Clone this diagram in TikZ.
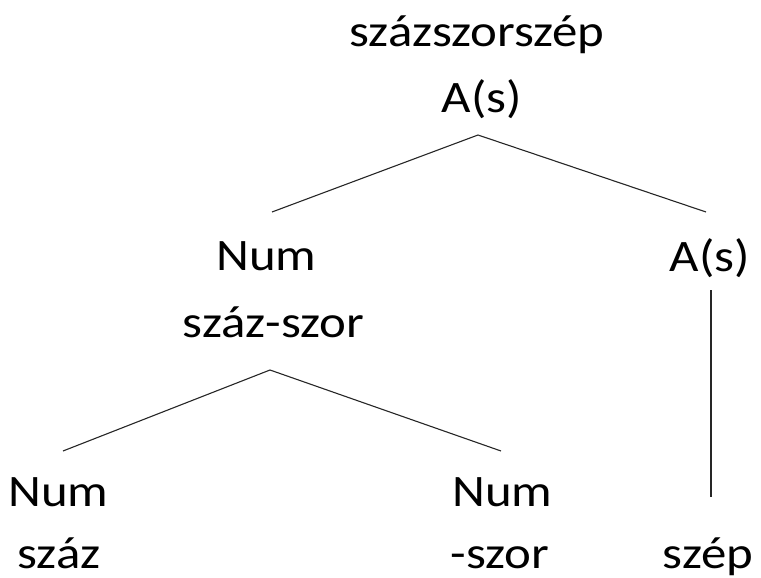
\documentclass[tikz,border=0pt]{standalone}
\usepackage{fontspec}
\setmainfont[FakeStretch=1.13]{Carlito}
\begin{document}
\begin{tikzpicture}[x=1pt,y=-1pt,
  lbl/.style={anchor=base,inner sep=0pt,font=\fontsize{45}{54}\selectfont},
  branch/.style={draw=black!85,line width=1.1pt}]
\useasboundingbox (0,0) rectangle (761,578);

% labels
\node[lbl] (root)    at (477,47)    {százszorszép};
\node[lbl] (rootcat) at (482,113)   {A(s)};
\node[lbl] (numcat)  at (266.5,270) {Num};
\node[lbl] (numword) at (273.5,337) {száz-szor};
\node[lbl] (acat)    at (710,271)   {A(s)};
\node[lbl] (n1cat)   at (58.5,506)  {Num};
\node[lbl] (n1word)  at (59,568)    {száz};
\node[lbl] (n2cat)   at (502.5,506) {Num};
\node[lbl] (n2word)  at (500,568)   {-szor};
\node[lbl] (aword)   at (708,568)   {szép};

% branch points
\coordinate (top)    at (478,135);
\coordinate (topL)   at (272,212);
\coordinate (topR)   at (706,212);
\coordinate (vtop)   at (711,290);
\coordinate (vbot)   at (711,497);
\coordinate (mid)    at (270,370);
\coordinate (midL)   at (63,451);
\coordinate (midR)   at (501,451);

% branches
\draw[branch] (topL) -- (top) -- (topR);
\draw[branch] (vtop) -- (vbot);
\draw[branch] (midL) -- (mid) -- (midR);
\end{tikzpicture}
\end{document}
